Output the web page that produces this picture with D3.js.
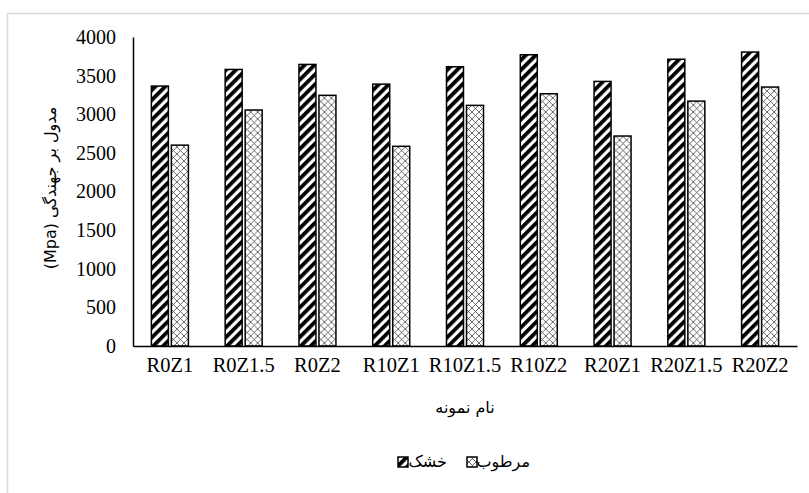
<!DOCTYPE html>
<html><head><meta charset="utf-8">
<script src="https://cdn.jsdelivr.net/npm/d3@7"></script>
<style>body{margin:0;background:#fff}</style>
</head><body>
<svg id="c" width="809" height="493"></svg>
<script>
const categories = ["R0Z1","R0Z1.5","R0Z2","R10Z1","R10Z1.5","R10Z2","R20Z1","R20Z1.5","R20Z2"];
const dryValues = [3365, 3580, 3645, 3390, 3615, 3770, 3425, 3712, 3805];
const wetValues = [2600, 3055, 3245, 2585, 3115, 3265, 2718, 3170, 3352];
const seriesNames = ["خشک", "مرطوب"];
const yTicks = [0,500,1000,1500,2000,2500,3000,3500,4000];
const yTitle = "مدول بر جهندگی (Mpa)";
const xTitle = "نام نمونه";

(function(){
const svg = d3.select("#c");
const defs = svg.append("defs");
const p1 = defs.append("pattern").attr("id","dry").attr("patternUnits","userSpaceOnUse")
  .attr("width",7).attr("height",7).attr("patternTransform","rotate(45)");
p1.append("rect").attr("width",7).attr("height",7).attr("fill","#fff");
p1.append("rect").attr("width",3.8).attr("height",7).attr("fill","#000");
const p2 = defs.append("pattern").attr("id","wet").attr("patternUnits","userSpaceOnUse")
  .attr("width",7).attr("height",7);
p2.append("rect").attr("width",7).attr("height",7).attr("fill","#fff");
p2.append("path").attr("d","M0,0L7,7M7,0L0,7").attr("stroke","#444").attr("stroke-width",0.8);

svg.append("rect").attr("x",7.5).attr("y",13.5).attr("width",820).attr("height",500)
  .attr("fill","none").attr("stroke","#d9d9d9").attr("stroke-width",1.5);

const mL=133, mR=797, mT=37, mB=346;
const x0 = d3.scaleBand().domain(categories).range([mL,mR]);
const x1 = d3.scaleBand().domain(seriesNames).range([-18.5,18.5]).paddingInner(0.15);
const y = d3.scaleLinear().domain([0,4000]).range([mB,mT]);

const data = categories.map((c,i)=>({c, vals:[{s:seriesNames[0],v:dryValues[i]},{s:seriesNames[1],v:wetValues[i]}]}));
const g = svg.append("g").selectAll("g").data(data).join("g")
  .attr("transform",d=>`translate(${x0(d.c)+x0.bandwidth()/2},0)`);
g.selectAll("rect").data(d=>d.vals).join("rect")
  .attr("x",d=>x1(d.s)).attr("width",x1.bandwidth())
  .attr("y",d=>y(d.v)).attr("height",d=>y(0)-y(d.v))
  .attr("fill",(d,i)=>i===0?"url(#dry)":"url(#wet)")
  .attr("stroke","#000").attr("stroke-width",1.5);

const ya = svg.append("g").attr("transform",`translate(${mL},0)`)
  .call(d3.axisLeft(y).tickValues(yTicks).tickFormat(d3.format("d")).tickSize(0).tickPadding(17));
ya.select(".domain").attr("stroke","#000").attr("stroke-width",1.5);
ya.selectAll("text").attr("font-family","Liberation Serif").attr("font-size",20).attr("fill","#000");

const xa = svg.append("g").attr("transform",`translate(0,${mB})`)
  .call(d3.axisBottom(x0).tickSize(0).tickPadding(11));
xa.select(".domain").attr("stroke","#000").attr("stroke-width",1.5);
xa.selectAll("text").attr("font-family","Liberation Serif").attr("font-size",20.5).attr("fill","#000");

svg.append("text").attr("transform","translate(56,188) rotate(-90)")
  .attr("text-anchor","middle").attr("direction","rtl")
  .attr("font-family","DejaVu Sans").attr("font-size",16).attr("fill","#000").text(yTitle);
svg.append("text").attr("x",465).attr("y",413).attr("text-anchor","middle")
  .attr("font-family","DejaVu Sans").attr("font-size",16).attr("fill","#000").text(xTitle);

const lg = svg.append("g");
const legendItems = [{name:seriesNames[0], fill:"url(#dry)", sx:398, tx:447},
                     {name:seriesNames[1], fill:"url(#wet)", sx:467, tx:530}];
legendItems.forEach(it=>{
  lg.append("rect").attr("x",it.sx).attr("y",457).attr("width",10).attr("height",10)
    .attr("fill",it.fill).attr("stroke","#000").attr("stroke-width",1.5);
  lg.append("text").attr("x",it.tx).attr("y",467).attr("text-anchor","end")
    .attr("font-family","DejaVu Sans").attr("font-size",16).attr("fill","#000").text(it.name);
});
})();
</script>
</body></html>
